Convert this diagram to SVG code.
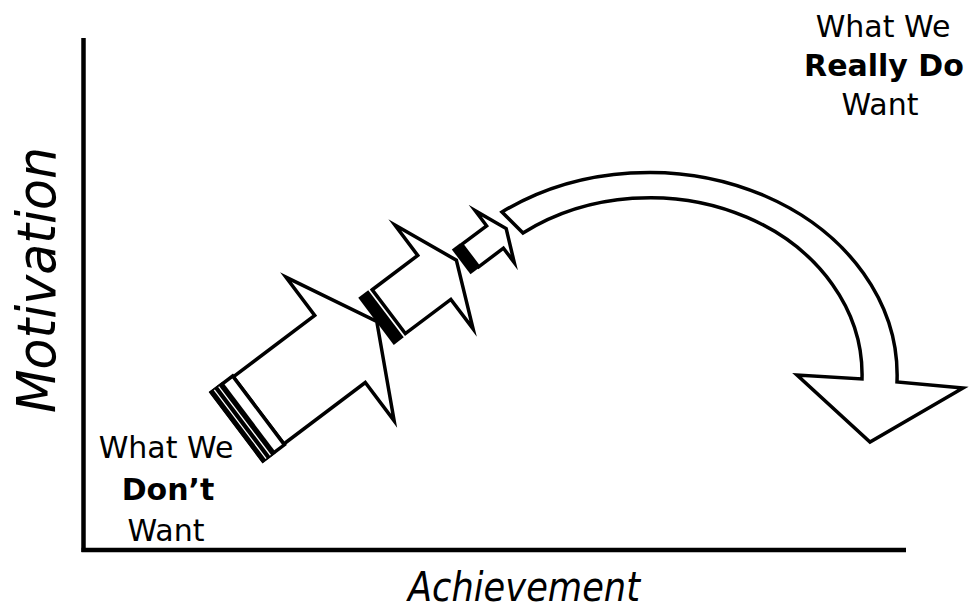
<svg xmlns="http://www.w3.org/2000/svg" width="970" height="612" viewBox="0 0 970 612">
<style>
.ax{stroke:#000;stroke-width:4.5;fill:none}
.sh{fill:#fff;stroke:#000;stroke-width:3.5;stroke-linejoin:miter;stroke-miterlimit:10}
.blk{fill:#000}
.wl{stroke:#fff;stroke-width:1.3}
.lbl{font-family:"DejaVu Sans","Liberation Sans",sans-serif;font-size:30px;fill:#000;text-anchor:middle}
.b{font-weight:bold}
.axl{font-family:"DejaVu Sans","Liberation Sans",sans-serif;font-style:italic;fill:#000}
</style>
<rect width="970" height="612" fill="#fff"/>
<g id="axes">
<line class="ax" x1="83.5" y1="38" x2="83.5" y2="552"/>
<line class="ax" x1="81.5" y1="550" x2="906" y2="550"/>
<text class="axl" font-size="54" transform="translate(55,413) rotate(-90)" textLength="266" lengthAdjust="spacingAndGlyphs">Motivation</text>
<text class="axl" font-size="41" x="408" y="601" textLength="232" lengthAdjust="spacingAndGlyphs">Achievement</text>
</g>
<g id="label-dont">
<text class="lbl" x="166" y="458">What We</text>
<text class="lbl b" x="168" y="500">Don’t</text>
<text class="lbl" x="166" y="541">Want</text>
</g>
<g id="label-really">
<text class="lbl" x="883" y="37">What We</text>
<text class="lbl b" x="884" y="76">Really Do</text>
<text class="lbl" x="880" y="115">Want</text>
</g>
<g id="connectors">
<g id="arrow1" transform="translate(340,349) rotate(-37)">
<polygon class="sh" points="-102,-42 0,-42 0,-90 46,0 0,90 0,42 -102,42"/>
<rect class="sh" x="-129" y="-43" width="27" height="86"/>
<rect class="blk" x="-130.5" y="-44.5" width="17" height="89"/>
<line class="wl" x1="-125" y1="-43" x2="-125" y2="43"/>
<line class="wl" x1="-119.5" y1="-43" x2="-119.5" y2="43"/>
</g>
<g id="arrow2" transform="translate(434,277) rotate(-37)">
<polygon class="sh" points="-57,-27 0,-27 0,-65 28,0 0,65 0,28 -57,28"/>
<rect class="blk" x="-73" y="-29" width="12.5" height="59"/>
</g>
<g id="arrow3" transform="translate(495,237) rotate(-37)">
<polygon class="sh" points="-31,-14 0,-14 0,-33 14,0 0,32 0,14 -31,14"/>
<rect class="blk" x="-42" y="-16" width="10" height="31"/>
</g>
<path id="curved-arrow" class="sh" d="M502,212 A248,203 0 0 1 897,382 L963,388 L870,442 L797,375 L862,379 A212,177 0 0 0 523,233 Z"/>
</g>
</svg>
